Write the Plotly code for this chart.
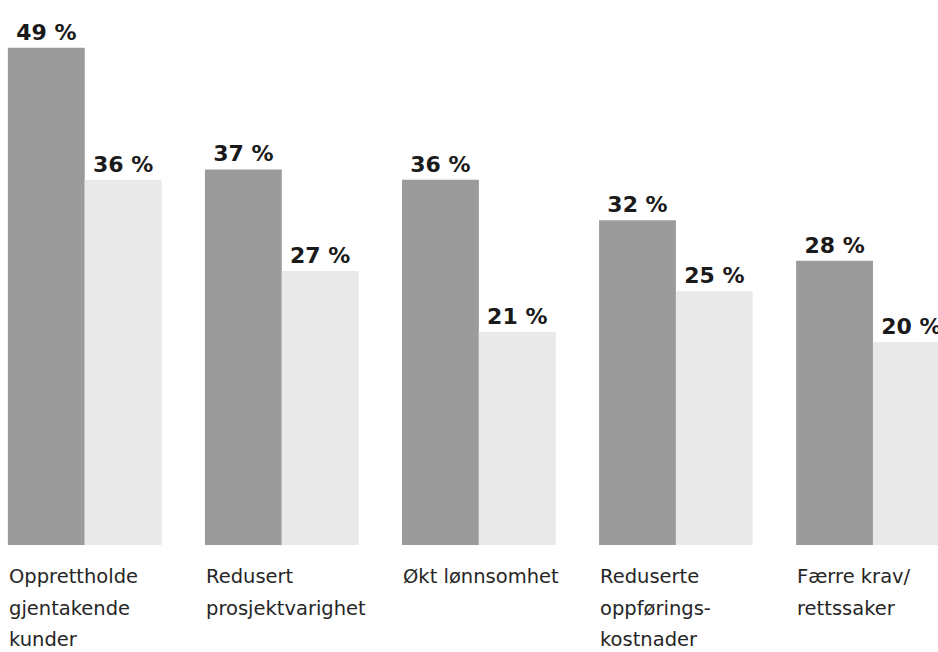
import plotly.graph_objects as go

categories = [
    ["Opprettholde", "gjentakende", "kunder"],
    ["Redusert", "prosjektvarighet"],
    ["Økt lønnsomhet"],
    ["Reduserte", "oppførings-", "kostnader"],
    ["Færre krav/", "rettssaker"],
]
series_a = [49, 37, 36, 32, 28]
series_b = [36, 27, 21, 25, 20]

x = list(range(len(categories)))
fig = go.Figure()
for vals, col in [(series_a, "#9b9b9b"), (series_b, "#e9e9e9")]:
    fig.add_trace(go.Bar(
        x=x, y=vals, marker=dict(color=col, line=dict(width=0)),
        text=[f"{v} %" for v in vals], textposition="outside",
        textfont=dict(family="DejaVu Sans", size=22, color="#1a1a1a", weight="bold"),
        cliponaxis=False, showlegend=False, hoverinfo="skip",
    ))

line_offsets = [31, 63, 94]
for i, lines in enumerate(categories):
    for j, ln in enumerate(lines):
        fig.add_annotation(
            x=i - 0.39, xref="x", y=0, yref="paper",
            text=ln, showarrow=False, xanchor="left", yanchor="middle",
            yshift=-line_offsets[j], xshift=-1,
            font=dict(family="DejaVu Sans", size=19.5, color="#262626"),
        )

fig.update_layout(
    width=938, height=652,
    margin=dict(l=0, r=0, t=0, b=107),
    plot_bgcolor="white", paper_bgcolor="white",
    barmode="group", bargap=0.22, bargroupgap=0,
    uniformtext=dict(mode=False),
    xaxis=dict(range=[-0.43, 4.33], showticklabels=False, showgrid=False,
               zeroline=False, showline=False, ticks=""),
    yaxis=dict(range=[0, 53.7], showticklabels=False, showgrid=False,
               zeroline=False, showline=False, ticks=""),
)
fig.write_html("out.html")
